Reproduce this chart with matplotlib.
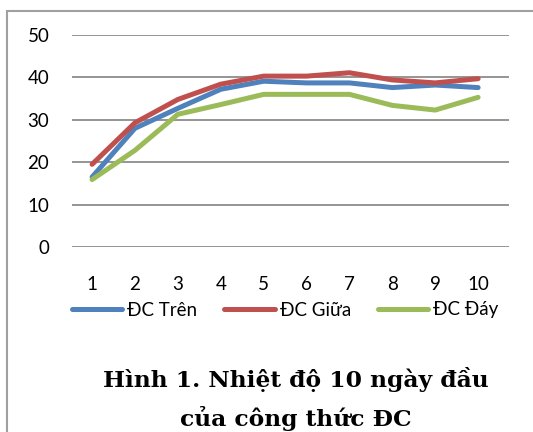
import matplotlib.pyplot as plt
from matplotlib.patches import Rectangle

days = [1, 2, 3, 4, 5, 6, 7, 8, 9, 10]
dc_tren = [16.5, 28.0, 32.7, 37.2, 39.1, 38.7, 38.7, 37.6, 38.2, 37.6]
dc_giua = [19.5, 29.3, 34.8, 38.4, 40.3, 40.3, 41.1, 39.4, 38.7, 39.7]
dc_day = [15.9, 22.8, 31.3, 33.6, 36.0, 36.0, 36.0, 33.4, 32.3, 35.3]
series_names = ['ĐC Trên', 'ĐC Giữa', 'ĐC Đáy']
colors = ['#4F81BD', '#C0504D', '#9BBB59']
y_ticks = [0, 10, 20, 30, 40, 50]

fig = plt.figure(figsize=(5.33, 4.32), dpi=100)
ax = fig.add_axes([71.5 / 533, 1 - 247 / 432, (509 - 71.5) / 533, (247 - 35) / 432])

for values, name, color in zip([dc_tren, dc_giua, dc_day], series_names, colors):
    ax.plot(days, values, color=color, lw=3.6, label=name, solid_capstyle='round')

ax.set_xlim(0.52, 10.72)
ax.set_ylim(0, 50)
ax.set_yticks(y_ticks)
ax.set_xticks(days)
ax.grid(axis='y', color='#8c8c8c', lw=1.3)
ax.set_axisbelow(True)
for side in ax.spines.values():
    side.set_visible(False)
ax.tick_params(length=0, labelsize=13.5)
ax.tick_params(axis='y', pad=16)
ax.tick_params(axis='x', pad=21)
for lab in ax.get_xticklabels() + ax.get_yticklabels():
    lab.set_fontfamily('Lato')

fig.legend(loc='center left', bbox_to_anchor=(72 / 533, 1 - 310 / 432), ncol=3,
           frameon=False, handlelength=2.67, handletextpad=0.27, columnspacing=1.45,
           prop={'family': 'Lato', 'size': 13.5}, borderaxespad=0, borderpad=0)

fig.text(296 / 533, 1 - 380 / 432, 'Hình 1. Nhiệt độ 10 ngày đầu', ha='center', va='center',
         family='DejaVu Serif', weight='bold', fontsize=16.8)
fig.text(296 / 533, 1 - 418 / 432, 'của công thức ĐC', ha='center', va='center',
         family='DejaVu Serif', weight='bold', fontsize=16.8)

fig.patches.append(Rectangle((7 / 533, -0.1), 1.2, 1 - 11 / 432 + 0.1, transform=fig.transFigure,
                             fill=False, edgecolor='#a0a0a0', lw=1.5))

fig.savefig('out.png', dpi=100)
